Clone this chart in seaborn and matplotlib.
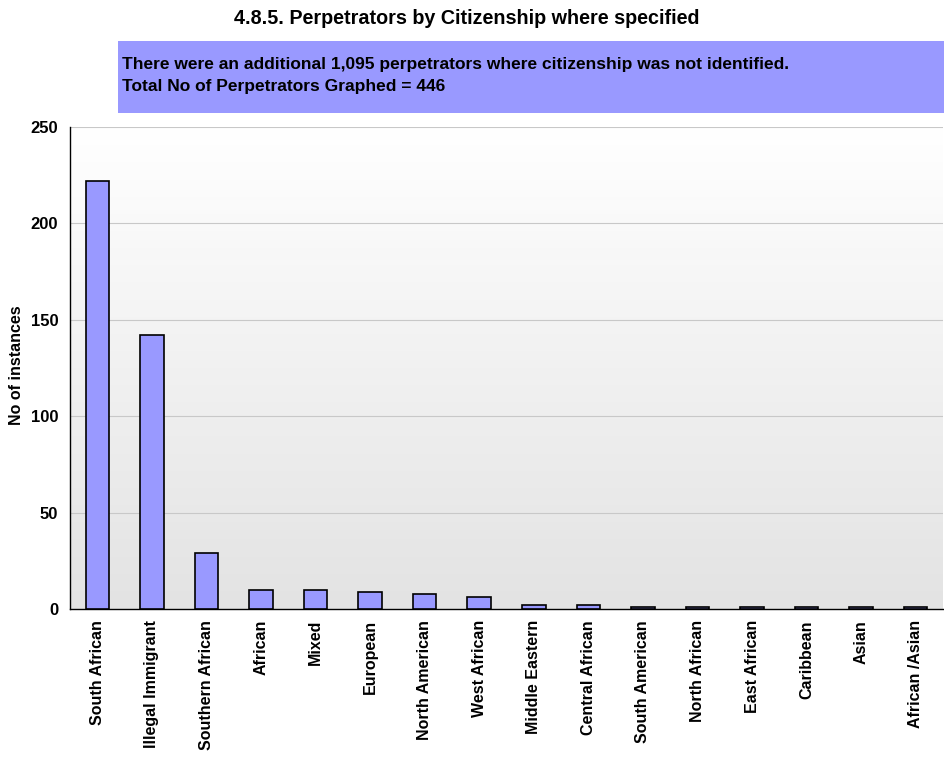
import numpy as np
import pandas as pd
import matplotlib
matplotlib.use("Agg")
import matplotlib.pyplot as plt
from matplotlib.patches import Rectangle
import seaborn as sns

categories = ["South African", "Illegal Immigrant", "Southern African", "African", "Mixed",
              "European", "North American", "West African", "Middle Eastern", "Central African",
              "South American", "North African", "East African", "Caribbean", "Asian", "African /Asian"]
values = [222, 142, 29, 10, 10, 9, 8, 6, 2, 2, 1, 1, 1, 1, 1, 1]
yticks = [0, 50, 100, 150, 200, 250]

sns.set_style("white")
plt.rcParams['font.family'] = ['Liberation Sans', 'DejaVu Sans']
plt.rcParams['text.color'] = 'black'
plt.rcParams['axes.labelcolor'] = 'black'
plt.rcParams['xtick.color'] = 'black'
plt.rcParams['ytick.color'] = 'black'

df = pd.DataFrame({"cat": categories, "val": values})

fig = plt.figure(figsize=(9.44, 7.57), dpi=100)
ax = fig.add_axes([70/944, 1-609/757, 873/944, (609-127)/757])

# gradient background
grad = np.linspace(0, 1, 256).reshape(-1, 1)
ax.imshow(grad, extent=[0, 1, 0, 1], transform=ax.transAxes, aspect='auto',
          cmap=matplotlib.colors.LinearSegmentedColormap.from_list('g', ['#e3e3e3', '#ffffff']),
          origin='lower', zorder=0)

sns.barplot(data=df, x="cat", y="val", ax=ax, color="#9999ff", saturation=1,
            edgecolor="black", linewidth=1.2, width=0.43, zorder=3)

ax.set_xlim(-0.5, len(categories) - 0.5)
ax.set_ylim(0, 250)
ax.set_yticks(yticks)
for y in yticks[1:]:
    ax.axhline(y, color="#c8c8c8", linewidth=0.8, zorder=1)

for s in ["top", "right"]:
    ax.spines[s].set_visible(False)
for s in ["left", "bottom"]:
    ax.spines[s].set_color("black")
    ax.spines[s].set_linewidth(1.0)

ax.set_xticks(np.arange(len(categories)))
ax.set_xticklabels(categories, rotation=90, fontsize=11.5, fontweight="bold", color="black")
ax.set_xticks(np.arange(-0.5, len(categories), 1), minor=True)
ax.tick_params(axis="x", which="major", length=0, pad=8)
ax.tick_params(axis="x", which="minor", length=5, width=1, color="black", direction="out")
ax.tick_params(axis="y", length=5, width=1, color="black", direction="out", labelsize=12,
               labelcolor="black")
for t in ax.get_yticklabels():
    t.set_fontweight("bold")
ax.set_xlabel("")
ax.set_ylabel("")

fig.text(17/944, 1-365/757, "No of instances", rotation=90, ha="center", va="center",
         fontsize=11.5, fontweight="bold", color="black")

fig.text(0.494, 1-18/757, "4.8.5. Perpetrators by Citizenship where specified",
         ha="center", va="center", fontsize=14.2, fontweight="bold", color="black")

fig.patches.append(Rectangle((118/944, 1-113/757), (944-118)/944, 72/757,
                             transform=fig.transFigure, facecolor="#9999ff",
                             edgecolor="none", zorder=0))
fig.text(122/944, 1-64/757,
         "There were an additional 1,095 perpetrators where citizenship was not identified.",
         ha="left", va="center", fontsize=12.5, fontweight="bold", color="black")
fig.text(122/944, 1-87/757, "Total No of Perpetrators Graphed = 446",
         ha="left", va="center", fontsize=12.5, fontweight="bold", color="black")

fig.savefig("out.png", dpi=100)
